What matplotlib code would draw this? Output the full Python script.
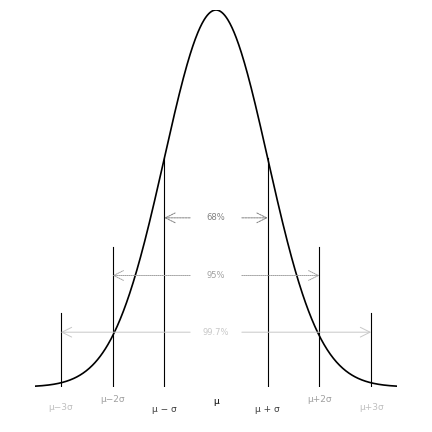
import numpy as np
import matplotlib
matplotlib.use("Agg")
import matplotlib.pyplot as plt

# normal curve, x in sigma units
x = np.linspace(-3.5, 3.5, 701)
pdf = np.exp(-x ** 2 / 2) / np.sqrt(2 * np.pi)

# vertical markers: position (sigma), top of line (pdf units)
marker_pos = [-3, -2, -1, 1, 2, 3]
marker_top = [0.078, 0.148, 0.242, 0.242, 0.148, 0.078]

# coverage arrows: half width (sigma), height, label
cover_k = [1, 2, 3]
cover_y = [0.179, 0.118, 0.058]
cover_lab = ["68%", "95%", "99.7%"]
cover_col = ["#808080", "#a0a0a0", "#c8c8c8"]
cover_ls = [(0, (2, 1)), (0, (1, 1)), "-"]

# tick labels under the axis
tick_pos = [-3, -2, -1, 0, 1, 2, 3]
tick_lab = ["μ−3σ", "μ−2σ", "μ − σ", "μ", "μ + σ", "μ+2σ", "μ+3σ"]
tick_col = ["#c0c0c0", "#a0a0a0", "#404040", "#000000", "#404040", "#a0a0a0", "#c0c0c0"]
tick_off = [-21, -12, -22, -14, -22, -12, -21]

fig = plt.figure(figsize=(4.32, 4.32), dpi=100)
ax = fig.add_axes([35 / 432, 45 / 432, 362 / 432, 377 / 432])
ax.plot(x, pdf, color="black", lw=1.2)

for p, t in zip(marker_pos, marker_top):
    ax.plot([p, p], [0, t], color="black", lw=0.8)

for k, y, lab, c, ls in zip(cover_k, cover_y, cover_lab, cover_col, cover_ls):
    for sgn in (-1, 1):
        ax.annotate("", xy=(sgn * k, y), xytext=(sgn * 0.5, y),
                    arrowprops=dict(arrowstyle="->,head_length=0.7,head_width=0.35",
                                    color=c, lw=0.7, linestyle=ls,
                                    shrinkA=0, shrinkB=0))
    ax.text(0, y, lab, color=c, fontsize=6, ha="center", va="center")

for p, lab, c, off in zip(tick_pos, tick_lab, tick_col, tick_off):
    ax.annotate(lab, xy=(p, 0), xytext=(0, off * 0.72), textcoords="offset points",
                ha="center", va="center", fontsize=6.5, color=c, annotation_clip=False)

ax.set_xlim(-3.5, 3.5)
ax.set_ylim(0, pdf.max())
ax.axis("off")

fig.savefig("out.png", dpi=100)
